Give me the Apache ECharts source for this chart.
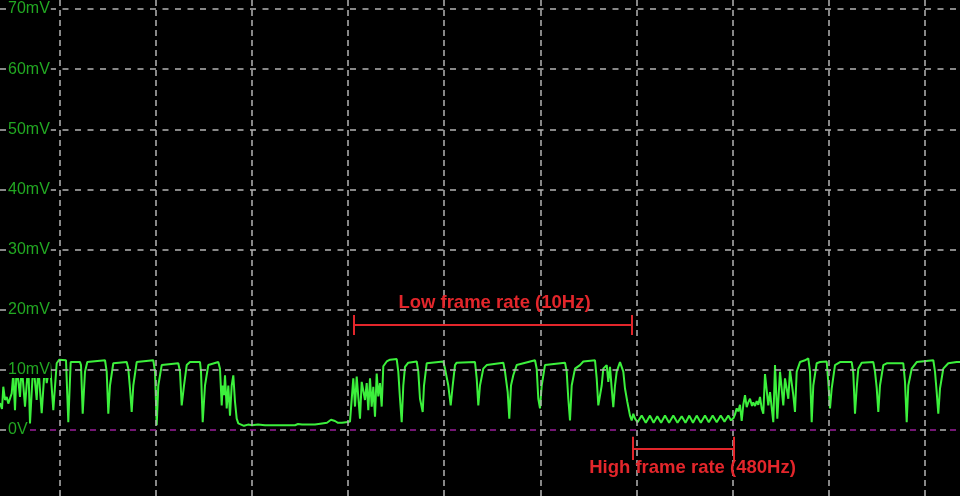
<!DOCTYPE html>
<html>
<head>
<meta charset="utf-8">
<script src="https://cdn.jsdelivr.net/npm/echarts@6/dist/echarts.min.js"></script>
<style>
html,body{margin:0;padding:0;background:#000;}
#chart{width:960px;height:496px;}
</style>
</head>
<body>
<div id="chart"></div>
<script>
// ---- data (time in ms, voltage in mV) ----
const levelTicks = [0, 10, 20, 30, 40, 50, 60, 70];
const levelLabels = ['0V', '10mV', '20mV', '30mV', '40mV', '50mV', '60mV', '70mV'];
const timeGridMs = [6.0, 15.61, 25.21, 34.82, 44.42, 54.03, 63.64, 73.24, 82.85, 92.45];

const waveMv = [
  [0,4.5],[0.2,3.5],[0.33,7.2],[0.5,5.0],[0.67,5.5],[0.83,4.4],[1.17,6.1],[1.33,9.4],[1.5,3.3],[1.67,10.8],
  [2.0,5.5],[2.17,10.8],[2.5,3.9],[2.83,11.1],[3.0,1.1],[3.33,11.1],[3.67,5.0],[3.83,10.6],[4.17,2.8],[4.5,11.1],
  [4.67,7.8],[5.0,11.1],[5.33,3.3],[5.67,11.1],[5.93,11.7],
  [6.0,11.6],[6.6,11.6],[6.83,1.3],[7.07,11.3],[8.0,11.3],[8.1,10.8],[8.27,2.7],[8.5,9.7],[8.73,11.3],[10.5,11.6],
  [10.67,9.7],[10.83,2.7],[11.0,7.4],[11.33,11.1],[11.5,11.3],[12.67,11.3],[12.83,10.2],[13.0,6.9],[13.17,3.0],[13.33,7.4],
  [13.67,11.3],[15.33,11.6],[15.5,9.7],[15.67,0.8],[15.83,7.4],[16.17,10.8],[17.83,11.1],[18.0,9.7],[18.17,4.1],[18.4,7.4],
  [18.67,10.8],[19.0,11.3],[20.0,11.3],
  [20.1,9.7],[20.27,1.3],[20.5,7.4],[20.83,10.8],[21.0,11.1],[21.83,11.3],[22.0,10.2],[22.17,4.1],[22.27,7.4],[22.4,5.8],
  [22.5,9.1],[22.67,3.6],[22.83,7.4],[23.0,2.4],[23.17,7.4],[23.33,9.1],[23.5,4.7],[23.67,1.9],[23.83,1.1],[24.0,0.9],
  [24.4,0.7],[24.8,0.9],[25.2,0.8],[25.8,0.9],[26.5,0.8],[28.0,0.8],[29.5,0.8],[29.8,1.0],[30.2,0.9],[31.5,0.9],
  [32.2,1.1],[32.7,1.2],[33.1,1.7],[33.5,1.5],[33.8,1.2],[34.2,1.2],[34.6,1.3],[35.0,1.4],
  [35.1,1.4],[35.33,8.6],[35.5,3.9],[35.67,8.9],[36.0,1.9],[36.17,8.0],[36.5,5.0],[36.67,7.8],[36.83,3.3],[37.0,8.6],
  [37.17,3.9],[37.33,7.2],[37.5,2.2],[37.67,9.4],[37.83,5.6],[38.0,7.8],[38.17,3.9],[38.33,10.6],[38.67,11.4],[39.0,11.7],
  [39.67,11.8],[39.83,9.7],[40.0,5.2],[40.17,1.3],[40.33,7.4],[40.5,10.5],[40.83,11.2],[41.67,11.4],[41.83,9.7],[42.0,5.2],
  [42.27,3.0],[42.4,7.4],[42.67,11.1],[44.33,11.4],[44.5,10.2],[44.83,7.4],[45.07,4.1],[45.27,7.4],[45.5,10.8],[45.67,11.2],
  [47.5,11.3],[47.67,8.6],[47.83,4.1],[48.0,7.4],[48.33,10.2],[48.67,10.8],[50.33,11.2],[50.5,9.7],[50.77,6.3],[50.93,1.9],
  [51.1,7.4],[51.33,9.1],[51.67,10.8],[53.5,11.6],[53.67,10.2],[53.83,5.2],[54.0,3.6],[54.17,7.4],[54.5,10.8],[56.5,11.2],
  [56.67,9.7],[56.83,5.2],[57.0,1.6],[57.17,7.4],[57.5,10.2],[58.0,10.8],
  [58.33,11.4],[59.5,11.6],[59.67,8.6],[59.83,4.1],[60.0,3.8],[60.17,7.4],[60.33,10.2],[60.5,10.2],[60.67,10.8],[60.83,8.0],
  [61.0,10.5],[61.17,6.9],[61.33,3.8],[61.5,7.4],[61.67,9.7],[62.0,11.3],[62.17,11.6],[62.33,9.7],[62.5,6.9],[62.73,4.7],
  [63.0,2.4],[63.17,1.6],[63.33,2.7],[63.5,1.9],
  [63.75,1.3],[64.17,2.4],[64.58,1.2],[65.0,2.4],[65.36,1.2],[65.73,2.3],[66.11,1.2],[66.5,2.4],[66.91,1.2],[67.33,2.4],
  [67.75,1.2],[68.17,2.3],[68.55,1.2],[68.93,2.4],[69.3,1.2],[69.67,2.4],[70.08,1.2],[70.5,2.4],[70.88,1.3],[71.27,2.4],
  [71.67,1.3],[72.07,2.4],[72.45,1.4],[72.83,2.4],[73.1,1.6],
  [73.35,2.0],[73.5,2.6],[73.67,3.6],[73.83,3.1],[74.0,4.2],[74.17,1.5],[74.33,4.2],[74.5,5.8],[74.67,3.8],[74.83,4.6],
  [75.0,5.2],[75.2,4.0],[75.33,4.6],[75.5,4.0],[75.67,4.8],[75.83,4.2],[76.0,5.5],[76.17,3.6],[76.33,2.7],[76.5,9.3],
  [76.83,4.1],[77.0,6.3],[77.33,1.3],[77.5,10.8],[77.73,1.9],[78.0,9.7],[78.33,4.1],[78.5,8.6],[78.83,5.2],[79.0,9.9],
  [79.33,5.8],[79.5,3.0],[79.67,9.7],[80.0,11.3],[80.5,11.6],[80.83,11.9],[81.0,9.7],[81.17,1.3],[81.33,7.4],[81.67,11.1],
  [82.0,11.3],[82.67,11.4],[82.83,8.0],[83.0,3.6],[83.17,6.9],[83.5,10.8],[84.0,11.3],[85.17,11.3],[85.33,9.5],[85.5,2.7],
  [85.67,7.0],[85.83,10.2],[86.17,11.2],[87.33,11.3],[87.5,9.7],[87.67,7.0],[87.83,3.0],[88.0,7.4],[88.33,10.8],[88.67,11.1],
  [90.33,11.1],[90.5,8.0],[90.67,1.3],[90.83,7.4],[91.17,10.2],[91.67,11.3],[93.33,11.6],[93.5,9.7],[93.67,6.3],[93.83,2.7],
  [94.0,6.9],[94.33,10.2],[94.83,11.1],[95.67,11.3],[96.0,11.3]
];

// annotations (data space)
const lowLabel = 'Low frame rate (10Hz)';
const lowSpanMs = [35.33, 63.17];
const lowSpanMv = [17.46, 19.12, 15.8, 21.17];   // line, cap top, cap bottom, text
const highLabel = 'High frame rate (480Hz)';
const highSpanMs = [63.23, 73.33];
const highSpanMv = [-3.16, -1.11, -4.99, -6.24];

// ---- styles ----
const GRID = '#b4b4b4';
const GREEN_TXT = '#22a822';
const WAVE = '#3cf03c';
const RED = '#e3262b';
const PURPLE = '#9a1f9a';

const chart = echarts.init(document.getElementById('chart'), null, {renderer: 'canvas'});

const hLines = levelTicks.map((v, i) => {
  const item = {
    yAxis: v,
    name: levelLabels[i],
    lineStyle: {color: GRID, width: 1.5, type: [6, 6.5]},
    label: {
      show: true, position: 'insideStart', formatter: '{b}', distance: 7,
      color: GREEN_TXT, fontSize: 16,
      fontFamily: "'Liberation Sans', Arial, sans-serif",
      backgroundColor: '#000', padding: [0, 1]
    }
  };
  if (v === 0) item.lineStyle = {color: GRID, width: 1.5, type: [6, 14], dashOffset: 0};
  return item;
});
const zeroPurple = {yAxis: 0, lineStyle: {color: PURPLE, width: 1.5, type: [6, 14], dashOffset: -10}, label: {show: false}};
const vLines = timeGridMs.map(t => ({xAxis: t, lineStyle: {color: GRID, width: 1.5, type: [6, 4]}, label: {show: false}}));

function bracket(span, mv) {
  return [
    [{coord: [span[0], mv[0]]}, {coord: [span[1], mv[0]]}],
    [{coord: [span[0], mv[1]]}, {coord: [span[0], mv[2]]}],
    [{coord: [span[1], mv[1]]}, {coord: [span[1], mv[2]]}]
  ];
}

const textStyle = {
  show: true, position: 'inside', color: RED, fontSize: 18.5, fontWeight: 'bold',
  fontFamily: "'Liberation Sans', Arial, sans-serif", formatter: '{b}'
};

chart.setOption({
  backgroundColor: '#000',
  animation: false,
  grid: {left: 0, right: 0, top: 0, bottom: 0},
  xAxis: {type: 'value', min: 0, max: 96, show: false},
  yAxis: {type: 'value', min: -10.97, max: 71.5, show: false},
  series: [
    {
      name: 'grid', type: 'line', data: [], z: 1, silent: true,
      markLine: {
        silent: true, symbol: ['none', 'none'], animation: false,
        data: vLines.concat(hLines.filter(h => h.yAxis !== 0), [hLines[0], zeroPurple])
      }
    },
    {
      name: 'signal', type: 'line', data: waveMv, z: 3,
      showSymbol: false, symbol: 'none', smooth: false,
      lineStyle: {color: WAVE, width: 2}
    },
    {
      name: 'annotations', type: 'line', data: [], z: 4, silent: true,
      markLine: {
        silent: true, symbol: ['none', 'none'], animation: false,
        lineStyle: {color: RED, width: 2, type: 'solid'},
        label: {show: false},
        data: bracket(lowSpanMs, lowSpanMv).concat(bracket(highSpanMs, highSpanMv))
      },
      markPoint: {
        silent: true, symbol: 'circle', symbolSize: 1, animation: false,
        itemStyle: {color: 'rgba(0,0,0,0)'},
        label: textStyle,
        data: [
          {name: lowLabel, coord: [(lowSpanMs[0] + lowSpanMs[1]) / 2 + 0.2, lowSpanMv[3]]},
          {name: highLabel, coord: [69.25, highSpanMv[3]]}
        ]
      }
    }
  ]
});
</script>
</body>
</html>
